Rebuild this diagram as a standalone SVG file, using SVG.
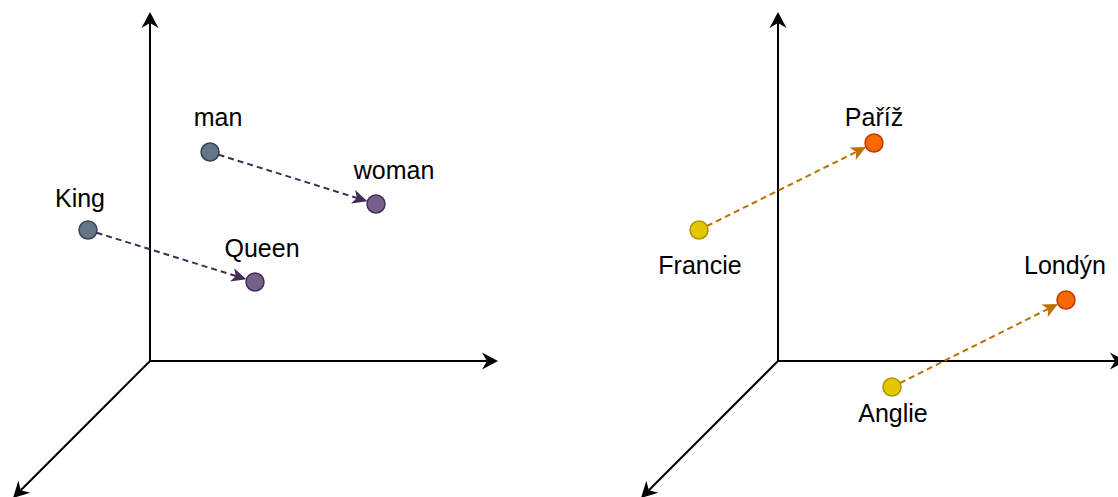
<svg xmlns="http://www.w3.org/2000/svg" width="1118" height="497" viewBox="0 0 1118 497">
<style>
.axis{stroke:#000;stroke-width:2;fill:none}
.vec{stroke-width:2;stroke-dasharray:6 4;fill:none}
.p{stroke:#432d57}
.o{stroke:#bd7000}
.lbl{font-family:"Liberation Sans",Arial,Helvetica,sans-serif;font-size:25px;fill:#000;text-anchor:middle}
.gray{fill:#647687;stroke:#314354;stroke-width:1.5}
.purple{fill:#76608a;stroke:#432d57;stroke-width:1.5}
.yellow{fill:#e3c800;stroke:#b09500;stroke-width:1.5}
.orange{fill:#fa6800;stroke:#c73500;stroke-width:1.5}
</style>
<defs>
<marker id="ax" markerUnits="userSpaceOnUse" viewBox="-5 -9 16 18" markerWidth="16" markerHeight="18" refX="0" refY="0" orient="auto" overflow="visible">
<path d="M11,0 L-5,-8.5 L0,0 L-5,8.5 Z" fill="#000"/>
</marker>
<marker id="ap" markerUnits="userSpaceOnUse" viewBox="-4 -7 15 14" markerWidth="15" markerHeight="14" refX="0" refY="0" orient="auto" overflow="visible">
<path d="M11,0 L-4,-7 L0,0 L-4,7 Z" fill="#432d57"/>
</marker>
<marker id="ao" markerUnits="userSpaceOnUse" viewBox="-4 -7 15 14" markerWidth="15" markerHeight="14" refX="0" refY="0" orient="auto" overflow="visible">
<path d="M11,0 L-4,-7 L0,0 L-4,7 Z" fill="#bd7000"/>
</marker>
</defs>
<rect width="1118" height="497" fill="#fff"/>
<g id="connectors">
<line class="axis" x1="150" y1="361" x2="150" y2="23" marker-end="url(#ax)"/>
<line class="axis" x1="150" y1="361" x2="487" y2="361" marker-end="url(#ax)"/>
<line class="axis" x1="150" y1="361" x2="20.8" y2="490.2" marker-end="url(#ax)"/>
<line class="axis" x1="778" y1="361" x2="778" y2="23" marker-end="url(#ax)"/>
<line class="axis" x1="778" y1="361" x2="1115" y2="361" marker-end="url(#ax)"/>
<line class="axis" x1="778" y1="361" x2="648.8" y2="490.2" marker-end="url(#ax)"/>
<line class="vec p" x1="218.6" y1="154.7" x2="356.9" y2="198" marker-end="url(#ap)"/>
<line class="vec p" x1="96.6" y1="232.7" x2="235.9" y2="276" marker-end="url(#ap)"/>
<line class="vec o" x1="707" y1="226" x2="856.2" y2="151.9" marker-end="url(#ao)"/>
<line class="vec o" x1="900" y1="383" x2="1048.2" y2="308.9" marker-end="url(#ao)"/>
</g>
<g id="man"><circle class="gray" cx="210" cy="152" r="9"/><text class="lbl" x="218" y="126">man</text></g>
<g id="woman"><circle class="purple" cx="376" cy="204" r="9"/><text class="lbl" x="394" y="179">woman</text></g>
<g id="king"><circle class="gray" cx="88" cy="230" r="9"/><text class="lbl" x="80" y="207">King</text></g>
<g id="queen"><circle class="purple" cx="255" cy="282" r="9"/><text class="lbl" x="262" y="257">Queen</text></g>
<g id="pariz"><circle class="orange" cx="874" cy="143" r="9"/><text class="lbl" x="874" y="126">Paříž</text></g>
<g id="francie"><circle class="yellow" cx="699" cy="230" r="9"/><text class="lbl" x="700" y="274">Francie</text></g>
<g id="londyn"><circle class="orange" cx="1066" cy="300" r="9"/><text class="lbl" x="1065" y="274">Londýn</text></g>
<g id="anglie"><circle class="yellow" cx="892" cy="387" r="9"/><text class="lbl" x="893" y="422">Anglie</text></g>
</svg>
